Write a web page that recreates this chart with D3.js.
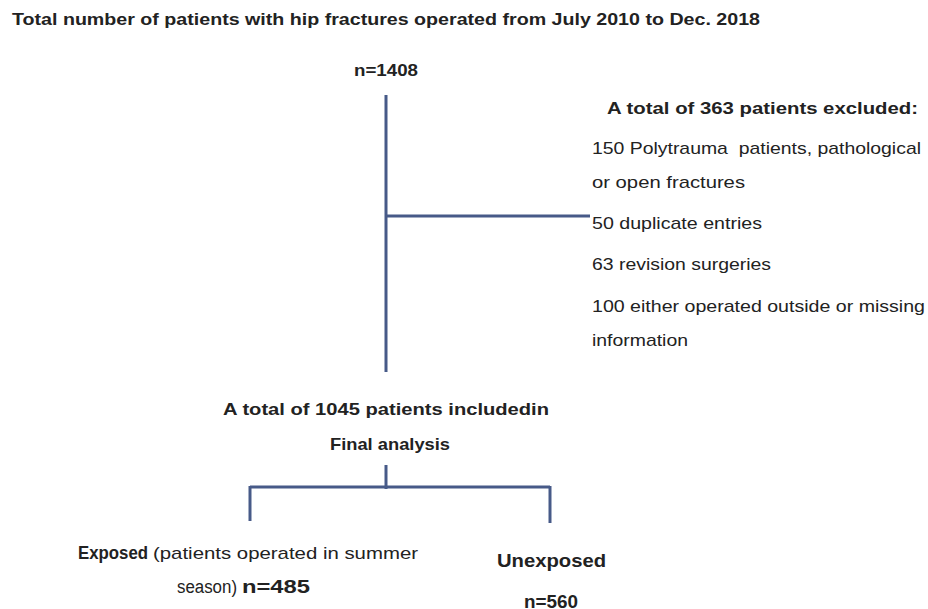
<!DOCTYPE html>
<head>
<meta charset="utf-8">
<style>
  body { margin: 0; background: #fff; }
  text { font-family: "Liberation Sans", Arial, sans-serif; fill: #222; white-space: pre; }
  .b { font-weight: bold; }
</style>
</head>
<body>
  <svg width="928" height="609"></svg>

  <script src="https://d3js.org/d3.v7.min.js"></script>
  <script>
  // flowchart content
  const title = 'Total number of patients with hip fractures operated from July 2010 to Dec. 2018';
  const totalN = 1408;
  const excludedN = 363;
  const excludedReasons = [
    ['150 Polytrauma  patients, pathological', 'or open fractures'],
    ['50 duplicate entries'],
    ['63 revision surgeries'],
    ['100 either operated outside or missing', 'information']
  ];
  const includedN = 1045;
  const groups = ['Exposed', 'Unexposed'];
  const groupNote = ['(patients operated in summer', 'season)'];
  const groupN = [485, 560];

  const svg = d3.select('svg');
  const lineColor = '#475a88';

  // horizontal positions of the split
  const x = d3.scalePoint().domain(groups).range([250, 550]);
  const xMid = 386;

  const line = (x1, y1, x2, y2) => svg.append('line')
    .attr('x1', x1).attr('y1', y1).attr('x2', x2).attr('y2', y2)
    .attr('stroke', lineColor).attr('stroke-width', 3);

  // text helper: len stretches the line to the width seen in the picture
  const label = (x0, y0, s, o = {}) => {
    const t = svg.append('text')
      .attr('x', x0).attr('y', y0)
      .attr('text-anchor', o.anchor || 'start')
      .classed('b', !!o.bold)
      .style('font-size', (o.size || 17) + 'px')
      .text(s);
    if (o.len) t.attr('textLength', o.len).attr('lengthAdjust', 'spacingAndGlyphs');
    return t;
  };

  label(12, 25, title, { bold: true, len: 748 });
  label(xMid, 76, 'n=' + totalN, { bold: true, anchor: 'middle', len: 64 });

  // trunk + branch to exclusions
  line(xMid, 95, xMid, 372);
  line(xMid, 216, 590, 216);

  label(607, 114, `A total of ${excludedN} patients excluded:`, { bold: true, len: 311 });

  const rowY = [154, 229, 270, 312];
  const rowLen = [[329, 153], [170], [179], [333, 96]];
  excludedReasons.forEach((lines, i) => {
    lines.forEach((s, j) => {
      label(592, rowY[i] + j * 34, s, { len: rowLen[i][j] });
    });
  });

  // included
  label(xMid, 415, `A total of ${includedN} patients includedin`, { bold: true, anchor: 'middle', len: 326 });
  label(xMid + 4, 450, 'Final analysis', { bold: true, anchor: 'middle', len: 120 });

  // split
  line(xMid, 465, xMid, 489);
  line(x(groups[0]), 487, x(groups[1]), 487);
  line(x(groups[0]), 486, x(groups[0]), 521);
  line(x(groups[1]), 486, x(groups[1]), 523);

  // exposed
  label(78, 559, groups[0], { bold: true, size: 18, len: 70 });
  label(153, 559, groupNote[0], { len: 265 });
  label(177, 593, groupNote[1], { size: 18, len: 60 });
  label(242, 593, 'n=' + groupN[0], { bold: true, size: 18, len: 68 });

  // unexposed
  label(497, 567, groups[1], { bold: true, size: 19, len: 109 });
  label(x(groups[1]) + 1, 608, 'n=' + groupN[1], { bold: true, size: 18, anchor: 'middle', len: 54 });
  </script>
</body>
</html>
